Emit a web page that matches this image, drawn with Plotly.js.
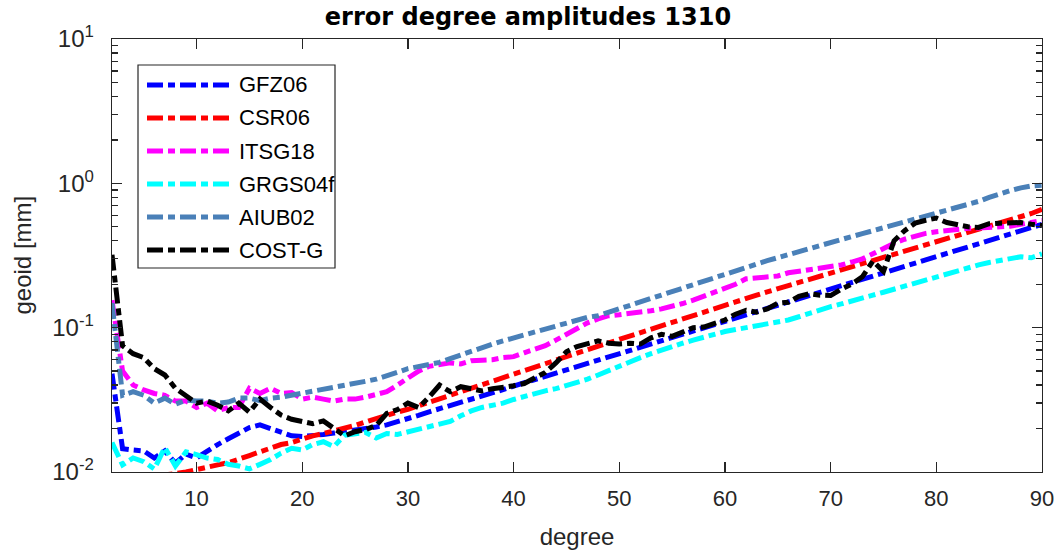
<!DOCTYPE html>
<html>
<head>
<meta charset="utf-8">
<script src="https://cdn.plot.ly/plotly-3.0.1.min.js"></script>
<style>
  html, body { margin: 0; padding: 0; background: #fff; }
  #chart { width: 1056px; height: 556px; }
</style>
</head>
<body>
<div id="chart"></div>
<script>
// spherical harmonic degree 2..90
const degree = [2, 3, 4, 5, 6, 7, 8, 9, 10, 11, 12, 13, 14, 15, 16, 17, 18, 19, 20, 21,
    22, 23, 24, 25, 26, 27, 28, 29, 30, 31, 32, 33, 34, 35, 36, 37, 38, 39, 40, 41,
    42, 43, 44, 45, 46, 47, 48, 49, 50, 51, 52, 53, 54, 55, 56, 57, 58, 59, 60, 61,
    62, 63, 64, 65, 66, 67, 68, 69, 70, 71, 72, 73, 74, 75, 76, 77, 78, 79, 80, 81,
    82, 83, 84, 85, 86, 87, 88, 89, 90]

const gfz06 = [0.048, 0.0145, 0.0142, 0.0140, 0.0125, 0.0140, 0.0115, 0.0133, 0.0125, 0.0140,
    0.0155, 0.0170, 0.0185, 0.0203, 0.0212, 0.0200, 0.0186, 0.0178, 0.0176, 0.0178,
    0.0182, 0.0186, 0.0190, 0.0195, 0.0200, 0.0205, 0.0212, 0.0222, 0.0235, 0.0247,
    0.0261, 0.0274, 0.0289, 0.0302, 0.0320, 0.0338, 0.0355, 0.0372, 0.0394, 0.0415,
    0.0437, 0.0458, 0.0482, 0.0510, 0.0537, 0.0565, 0.0592, 0.0627, 0.0660, 0.0695,
    0.0732, 0.0768, 0.0811, 0.0854, 0.0900, 0.0947, 0.0995, 0.105, 0.111, 0.116,
    0.122, 0.129, 0.136, 0.143, 0.150, 0.158, 0.167, 0.176, 0.185, 0.195,
    0.205, 0.216, 0.228, 0.240, 0.252, 0.266, 0.280, 0.295, 0.310, 0.327,
    0.344, 0.362, 0.381, 0.402, 0.423, 0.445, 0.469, 0.494, 0.52]

const csr06 = [0.0088, 0.0090, 0.0092, 0.0091, 0.0093, 0.0095, 0.0097, 0.0100, 0.0104, 0.0109,
    0.0112, 0.0116, 0.0122, 0.0130, 0.0138, 0.0146, 0.0155, 0.0160, 0.0170, 0.0178,
    0.0185, 0.0192, 0.0200, 0.0210, 0.0222, 0.0235, 0.0247, 0.0260, 0.0272, 0.0288,
    0.0305, 0.0322, 0.0340, 0.0360, 0.0380, 0.0402, 0.0425, 0.0450, 0.0478, 0.0505,
    0.0534, 0.0564, 0.0596, 0.0630, 0.0666, 0.0704, 0.0744, 0.0787, 0.0832, 0.0879,
    0.0929, 0.0982, 0.104, 0.110, 0.116, 0.123, 0.130, 0.137, 0.145, 0.152,
    0.160, 0.168, 0.177, 0.186, 0.196, 0.206, 0.216, 0.227, 0.239, 0.251,
    0.264, 0.278, 0.292, 0.307, 0.323, 0.339, 0.357, 0.375, 0.394, 0.414,
    0.436, 0.458, 0.482, 0.506, 0.532, 0.560, 0.588, 0.618, 0.660]

const itsg18 = [0.155, 0.050, 0.040, 0.037, 0.035, 0.034, 0.031, 0.031, 0.028, 0.030,
    0.0265, 0.028, 0.028, 0.038, 0.035, 0.038, 0.035, 0.0355, 0.032, 0.033,
    0.032, 0.031, 0.032, 0.032, 0.033, 0.0345, 0.036, 0.040, 0.045, 0.050,
    0.054, 0.055, 0.057, 0.056, 0.059, 0.0595, 0.060, 0.062, 0.063, 0.067,
    0.071, 0.075, 0.082, 0.090, 0.100, 0.108, 0.115, 0.121, 0.123, 0.125,
    0.128, 0.131, 0.135, 0.140, 0.147, 0.155, 0.165, 0.175, 0.187, 0.200,
    0.218, 0.222, 0.222, 0.228, 0.240, 0.246, 0.251, 0.256, 0.262, 0.272,
    0.285, 0.300, 0.325, 0.355, 0.385, 0.410, 0.430, 0.450, 0.462, 0.472,
    0.482, 0.488, 0.490, 0.493, 0.496, 0.505, 0.520, 0.535, 0.553]

const grgs04f = [0.016, 0.0112, 0.0125, 0.0118, 0.0105, 0.0148, 0.0110, 0.0138, 0.0132, 0.0125,
    0.0122, 0.0113, 0.0110, 0.0105, 0.0113, 0.0122, 0.0135, 0.0146, 0.0142, 0.0155,
    0.0162, 0.0150, 0.0180, 0.0185, 0.0188, 0.0172, 0.0185, 0.0182, 0.0190, 0.0198,
    0.0208, 0.0218, 0.0224, 0.0245, 0.0265, 0.0280, 0.0290, 0.0300, 0.0318, 0.0335,
    0.0352, 0.0365, 0.0378, 0.0395, 0.0415, 0.0440, 0.0470, 0.0505, 0.0545, 0.0585,
    0.0620, 0.0660, 0.0700, 0.0745, 0.0780, 0.0820, 0.0860, 0.0900, 0.0940, 0.0970,
    0.100, 0.103, 0.106, 0.109, 0.113, 0.119, 0.126, 0.133, 0.140, 0.146,
    0.152, 0.160, 0.168, 0.176, 0.185, 0.195, 0.205, 0.215, 0.226, 0.237,
    0.248, 0.260, 0.272, 0.283, 0.292, 0.301, 0.310, 0.305, 0.325]

const aiub02 = [0.148, 0.034, 0.036, 0.034, 0.030, 0.0325, 0.0295, 0.0315, 0.031, 0.031,
    0.030, 0.0305, 0.0325, 0.0325, 0.0312, 0.0325, 0.033, 0.034, 0.035, 0.036,
    0.037, 0.0383, 0.0395, 0.041, 0.0425, 0.044, 0.046, 0.049, 0.052, 0.0535,
    0.055, 0.0575, 0.061, 0.065, 0.069, 0.0735, 0.077, 0.081, 0.085, 0.089,
    0.093, 0.098, 0.103, 0.109, 0.114, 0.118, 0.121, 0.128, 0.135, 0.143,
    0.151, 0.160, 0.169, 0.178, 0.188, 0.199, 0.210, 0.222, 0.235, 0.248,
    0.262, 0.276, 0.291, 0.306, 0.322, 0.338, 0.355, 0.372, 0.390, 0.409,
    0.428, 0.448, 0.469, 0.491, 0.514, 0.538, 0.563, 0.590, 0.617, 0.646,
    0.676, 0.707, 0.750, 0.800, 0.850, 0.890, 0.930, 0.960, 0.970]

const costg = [0.32, 0.075, 0.066, 0.062, 0.052, 0.047, 0.038, 0.034, 0.030, 0.031,
    0.029, 0.0265, 0.030, 0.026, 0.032, 0.028, 0.0248, 0.0232, 0.0222, 0.0216,
    0.0226, 0.0199, 0.0178, 0.0190, 0.0197, 0.0210, 0.0255, 0.0270, 0.0300, 0.0280,
    0.0330, 0.0400, 0.0360, 0.0390, 0.0380, 0.0365, 0.0377, 0.0385, 0.0396, 0.0410,
    0.045, 0.049, 0.057, 0.068, 0.074, 0.0775, 0.081, 0.078, 0.077, 0.078,
    0.077, 0.085, 0.090, 0.087, 0.094, 0.100, 0.101, 0.106, 0.113, 0.124,
    0.132, 0.128, 0.135, 0.148, 0.150, 0.165, 0.172, 0.168, 0.167, 0.185,
    0.200, 0.225, 0.290, 0.245, 0.400, 0.470, 0.530, 0.555, 0.575, 0.535,
    0.515, 0.500, 0.495, 0.525, 0.530, 0.535, 0.535, 0.520, 0.510]

const names = ['GFZ06', 'CSR06', 'ITSG18', 'GRGS04f', 'AIUB02', 'COST-G']
const colors = ['#0000ff', '#ff0000', '#ff00ff', '#00ffff', '#4a80b8', '#000000']
const series = [gfz06, csr06, itsg18, grgs04f, aiub02, costg]

// y axis: decades with labels, plus the minor log ticks in between
const y_log_range = [-2, 1]
const y_tickvals = [0.01, 0.1, 1, 10]
const y_ticktext = ['10<sup>-2</sup>', '10<sup>-1</sup>', '10<sup>0</sup>', '10<sup>1</sup>']
const y_minor = [0.02, 0.03, 0.04, 0.05, 0.06, 0.07, 0.08, 0.09,
    0.2, 0.3, 0.4, 0.5, 0.6, 0.7, 0.8, 0.9,
    2, 3, 4, 5, 6, 7, 8, 9]

const axis_color = '#262626'
const font_family = 'Liberation Sans, Arial, sans-serif'
const line_dash = '16px,5px,7px,5px'
const line_width = 5

// plot area in pixels (used only for placing the legend)
const plot_l = 112, plot_r = 1042, plot_t = 39, plot_b = 472
function px_x(px) { return (px - plot_l) / (plot_r - plot_l) }
function px_y(py) { return (plot_b - py) / (plot_b - plot_t) }

function make_traces() {
    let data = []
    for (let i = 0; i < series.length; i++) {
        data.push({
            x: degree,
            y: series[i],
            type: 'scatter',
            mode: 'lines',
            name: names[i],
            line: { color: colors[i], width: line_width, dash: line_dash },
            hoverinfo: 'x+y+name'
        })
    }
    return data
}

function make_legend() {
    let shapes = [{
        type: 'rect', xref: 'paper', yref: 'paper',
        x0: px_x(138), x1: px_x(335), y0: px_y(268), y1: px_y(65),
        line: { color: axis_color, width: 1.2 }, fillcolor: 'white', layer: 'above'
    }]
    let annotations = []
    const row0 = 85, row_step = 33
    for (let i = 0; i < names.length; i++) {
        let yy = px_y(row0 + i * row_step)
        shapes.push({
            type: 'line', xref: 'paper', yref: 'paper',
            x0: px_x(147), x1: px_x(231), y0: yy, y1: yy,
            line: { color: colors[i], width: line_width, dash: line_dash },
            layer: 'above'
        })
        annotations.push({
            xref: 'paper', yref: 'paper', x: px_x(237), y: yy,
            xanchor: 'left', yanchor: 'middle', showarrow: false,
            text: names[i],
            font: { family: font_family, size: 22, color: '#000' }
        })
    }
    return [shapes, annotations]
}

document.addEventListener('DOMContentLoaded', function () {
    const [legend_shapes, annotations] = make_legend()
    // y axis title placed like the MATLAB label
    annotations.push({
        xref: 'paper', yref: 'paper', x: px_x(22), y: 0.5,
        xanchor: 'center', yanchor: 'middle', textangle: -90, showarrow: false,
        text: 'geoid [mm]',
        font: { family: font_family, size: 24, color: axis_color }
    })
    let layout = {
        width: 1056,
        height: 556,
        margin: { l: plot_l, r: 1056 - plot_r, t: plot_t, b: 556 - plot_b },
        paper_bgcolor: 'white',
        plot_bgcolor: 'white',
        showlegend: false,
        font: { family: font_family, size: 22, color: axis_color },
        title: {
            text: '<b>error degree amplitudes 1310</b>',
            font: { family: 'DejaVu Sans, sans-serif', size: 24, color: '#000' },
            x: px_x(528), xref: 'paper', xanchor: 'center',
            y: 1 - 17 / 556, yref: 'container', yanchor: 'middle'
        },
        xaxis: {
            range: [2, 90],
            tick0: 0, dtick: 10,
            ticks: 'inside', ticklen: 10, tickwidth: 1.2, tickcolor: axis_color,
            showline: true, linecolor: axis_color, linewidth: 1.3, mirror: 'ticks',
            showgrid: false, zeroline: false,
            ticklabelstandoff: 6,
            tickfont: { family: font_family, size: 22, color: axis_color },
            title: { text: 'degree', font: { family: font_family, size: 24, color: axis_color }, standoff: 18 }
        },
        yaxis: {
            type: 'log',
            range: y_log_range,
            tickmode: 'array', tickvals: y_tickvals, ticktext: y_ticktext,
            ticks: 'inside', ticklen: 10, tickwidth: 1.2, tickcolor: axis_color,
            minor: {
                tickmode: 'array', tickvals: y_minor,
                ticks: 'inside', ticklen: 6, tickwidth: 1.3, tickcolor: axis_color, showgrid: false
            },
            showline: true, linecolor: axis_color, linewidth: 1.3, mirror: 'ticks',
            showgrid: false, zeroline: false,
            ticklabelstandoff: 12,
            tickfont: { family: font_family, size: 24, color: axis_color }
        },
        shapes: legend_shapes,
        annotations: annotations
    }
    Plotly.newPlot('chart', make_traces(), layout, { displayModeBar: false, responsive: false, staticPlot: true })
})
</script>
</body>
</html>
